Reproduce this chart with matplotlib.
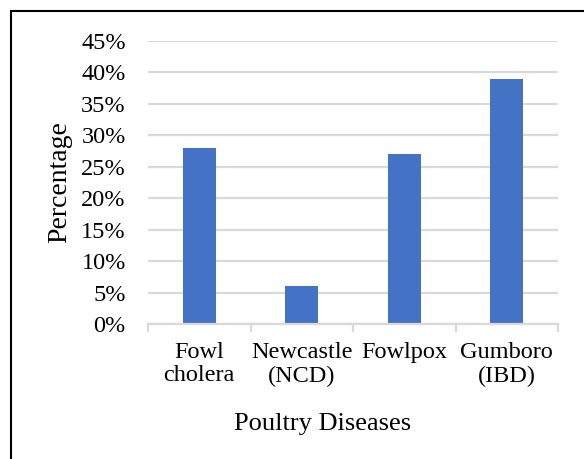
import numpy as np
import matplotlib
matplotlib.use("Agg")
from matplotlib import pyplot as plt
from matplotlib.patches import Rectangle
from matplotlib.ticker import PercentFormatter

diseases = ["Fowl\ncholera", "Newcastle\n(NCD)", "Fowlpox", "Gumboro\n(IBD)"]
percentages = [0.28, 0.06, 0.27, 0.39]
yticks = [0, 0.05, 0.10, 0.15, 0.20, 0.25, 0.30, 0.35, 0.40, 0.45]

plt.rcParams["font.family"] = ["Liberation Serif", "DejaVu Serif"]

fig = plt.figure(figsize=(5.84, 4.59), dpi=100)
ax = fig.add_axes([148 / 584, 1 - 324 / 459, 410 / 584, 283 / 459])

# outer frame around the chart
fig.patches.append(Rectangle((11 / 584, -0.05), 1.1, 1 - 11 / 459 + 0.05,
                             transform=fig.transFigure, fill=False,
                             edgecolor="black", linewidth=1.5))

x = np.arange(len(diseases))
ax.bar(x, percentages, width=0.32, color="#4472C4", zorder=3)

ax.set_xlim(-0.5, len(diseases) - 0.5)
ax.set_ylim(0, 0.45)
ax.set_yticks(yticks)
ax.yaxis.set_major_formatter(PercentFormatter(1.0, decimals=0))
ax.grid(axis="y", color="#D9D9D9", linewidth=1.6, zorder=0)

for s in ["top", "right", "left"]:
    ax.spines[s].set_visible(False)
ax.spines["bottom"].set_color("#D9D9D9")
ax.spines["bottom"].set_linewidth(1.6)
ax.spines["bottom"].set_zorder(4)

ax.set_xticks(x)
ax.set_xticklabels(diseases, fontsize=17.5, linespacing=1.15)
ax.tick_params(axis="x", length=0, pad=13)
ax.set_xticks(np.arange(-0.5, len(diseases)), minor=True)
ax.tick_params(axis="x", which="minor", length=6, width=1.6, color="#D9D9D9")
ax.tick_params(axis="y", length=0, pad=16, labelsize=17.5)

ax.set_ylabel("Percentage", fontsize=20, labelpad=6)
ax.set_xlabel("Poultry Diseases", fontsize=19)
# the title sits left of the plot centre, as in the source chart
ax.xaxis.set_label_coords((323 - 148) / 410, -(424 - 324) / 283)
ax.xaxis.label.set_va("center")

fig.savefig("out.png", dpi=100)
